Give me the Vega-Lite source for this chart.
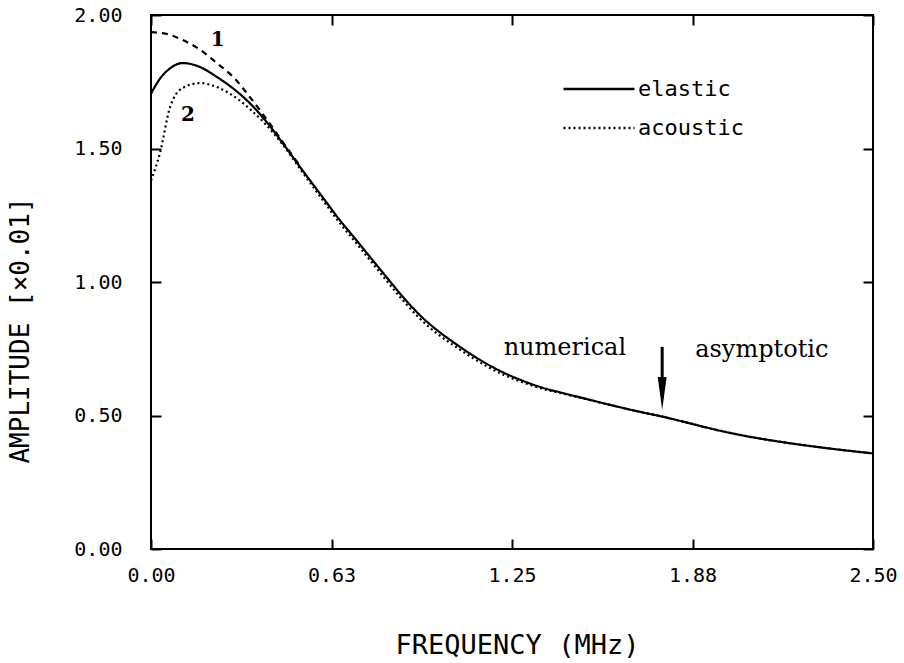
{
  "$schema": "https://vega.github.io/schema/vega-lite/v6.json",
  "width": 722,
  "height": 534,
  "autosize": "none",
  "padding": {"left": 151, "top": 15, "right": 31, "bottom": 114},
  "background": "white",
  "config": {
    "view": {"stroke": "black", "strokeWidth": 2},
    "font": "DejaVu Sans Mono"
  },
  "resolve": {"axis": {"x": "independent", "y": "independent"}},
  "layer": [
    {
      "data": {"values": [
        {"f": 0, "amp": 1.705, "series": "elastic"},
        {"f": 0.03, "amp": 1.76, "series": "elastic"},
        {"f": 0.06, "amp": 1.795, "series": "elastic"},
        {"f": 0.11, "amp": 1.82, "series": "elastic"},
        {"f": 0.17, "amp": 1.805, "series": "elastic"},
        {"f": 0.228, "amp": 1.768, "series": "elastic"},
        {"f": 0.29, "amp": 1.72, "series": "elastic"},
        {"f": 0.342, "amp": 1.67, "series": "elastic"},
        {"f": 0.40, "amp": 1.60, "series": "elastic"},
        {"f": 0.456, "amp": 1.52, "series": "elastic"},
        {"f": 0.52, "amp": 1.425, "series": "elastic"},
        {"f": 0.594, "amp": 1.318, "series": "elastic"},
        {"f": 0.65, "amp": 1.237, "series": "elastic"},
        {"f": 0.711, "amp": 1.157, "series": "elastic"},
        {"f": 0.765, "amp": 1.085, "series": "elastic"},
        {"f": 0.815, "amp": 1.019, "series": "elastic"},
        {"f": 0.87, "amp": 0.947, "series": "elastic"},
        {"f": 0.93, "amp": 0.877, "series": "elastic"},
        {"f": 0.99, "amp": 0.82, "series": "elastic"},
        {"f": 1.045, "amp": 0.776, "series": "elastic"},
        {"f": 1.10, "amp": 0.735, "series": "elastic"},
        {"f": 1.16, "amp": 0.695, "series": "elastic"},
        {"f": 1.22, "amp": 0.661, "series": "elastic"},
        {"f": 1.28, "amp": 0.633, "series": "elastic"},
        {"f": 1.35, "amp": 0.606, "series": "elastic"},
        {"f": 1.43, "amp": 0.583, "series": "elastic"},
        {"f": 1.50, "amp": 0.564, "series": "elastic"},
        {"f": 1.60, "amp": 0.537, "series": "elastic"},
        {"f": 1.70, "amp": 0.512, "series": "elastic"},
        {"f": 1.77, "amp": 0.496, "series": "elastic"},
        {"f": 1.85, "amp": 0.475, "series": "elastic"},
        {"f": 1.954, "amp": 0.447, "series": "elastic"},
        {"f": 2.06, "amp": 0.423, "series": "elastic"},
        {"f": 2.182, "amp": 0.401, "series": "elastic"},
        {"f": 2.33, "amp": 0.379, "series": "elastic"},
        {"f": 2.5, "amp": 0.358, "series": "elastic"},
        {"f": 0, "amp": 1.38, "series": "acoustic"},
        {"f": 0.031, "amp": 1.483, "series": "acoustic"},
        {"f": 0.066, "amp": 1.655, "series": "acoustic"},
        {"f": 0.11, "amp": 1.727, "series": "acoustic"},
        {"f": 0.17, "amp": 1.745, "series": "acoustic"},
        {"f": 0.228, "amp": 1.73, "series": "acoustic"},
        {"f": 0.307, "amp": 1.68, "series": "acoustic"},
        {"f": 0.342, "amp": 1.648, "series": "acoustic"},
        {"f": 0.387, "amp": 1.602, "series": "acoustic"},
        {"f": 0.456, "amp": 1.515, "series": "acoustic"},
        {"f": 0.52, "amp": 1.418, "series": "acoustic"},
        {"f": 0.594, "amp": 1.308, "series": "acoustic"},
        {"f": 0.65, "amp": 1.226, "series": "acoustic"},
        {"f": 0.711, "amp": 1.145, "series": "acoustic"},
        {"f": 0.765, "amp": 1.073, "series": "acoustic"},
        {"f": 0.815, "amp": 1.006, "series": "acoustic"},
        {"f": 0.87, "amp": 0.934, "series": "acoustic"},
        {"f": 0.93, "amp": 0.864, "series": "acoustic"},
        {"f": 0.99, "amp": 0.807, "series": "acoustic"},
        {"f": 1.045, "amp": 0.765, "series": "acoustic"},
        {"f": 1.10, "amp": 0.725, "series": "acoustic"},
        {"f": 1.16, "amp": 0.686, "series": "acoustic"},
        {"f": 1.22, "amp": 0.653, "series": "acoustic"},
        {"f": 1.28, "amp": 0.627, "series": "acoustic"},
        {"f": 1.35, "amp": 0.602, "series": "acoustic"},
        {"f": 1.43, "amp": 0.581, "series": "acoustic"},
        {"f": 1.50, "amp": 0.563, "series": "acoustic"},
        {"f": 1.60, "amp": 0.537, "series": "acoustic"},
        {"f": 1.70, "amp": 0.512, "series": "acoustic"},
        {"f": 1.77, "amp": 0.496, "series": "acoustic"},
        {"f": 1.85, "amp": 0.475, "series": "acoustic"},
        {"f": 1.954, "amp": 0.447, "series": "acoustic"},
        {"f": 2.06, "amp": 0.423, "series": "acoustic"},
        {"f": 2.182, "amp": 0.401, "series": "acoustic"},
        {"f": 2.33, "amp": 0.379, "series": "acoustic"},
        {"f": 2.5, "amp": 0.358, "series": "acoustic"},
        {"f": 0, "amp": 1.936, "series": "1"},
        {"f": 0.05, "amp": 1.93, "series": "1"},
        {"f": 0.11, "amp": 1.906, "series": "1"},
        {"f": 0.17, "amp": 1.87, "series": "1"},
        {"f": 0.228, "amp": 1.82, "series": "1"},
        {"f": 0.29, "amp": 1.762, "series": "1"},
        {"f": 0.342, "amp": 1.693, "series": "1"},
        {"f": 0.40, "amp": 1.61, "series": "1"},
        {"f": 0.456, "amp": 1.525, "series": "1"},
        {"f": 0.52, "amp": 1.428, "series": "1"}
      ]},
      "mark": {"type": "line", "interpolate": "monotone", "color": "black", "strokeWidth": 2.2},
      "encoding": {
        "x": {
          "field": "f", "type": "quantitative",
          "scale": {"domain": [0, 2.5], "nice": false, "zero": false},
          "axis": {
            "orient": "bottom",
            "values": [0, 0.625, 1.25, 1.875, 2.5],
            "format": ".2f",
            "grid": false, "domain": false, "labelFlush": false,
            "tickSize": -10, "tickWidth": 2, "tickColor": "black",
            "labelPadding": 26, "labelFontSize": 20, "labelColor": "black",
            "labelFont": "DejaVu Sans Mono",
            "title": "FREQUENCY (MHz)",
            "titleFont": "DejaVu Sans Mono", "titleFontSize": 27, "titleFontWeight": "normal",
            "titleColor": "black", "titleX": 366, "titleY": 96, "titleBaseline": "middle", "titleAlign": "center"
          }
        },
        "y": {
          "field": "amp", "type": "quantitative",
          "scale": {"domain": [0, 2], "nice": false, "zero": false},
          "axis": {
            "orient": "left",
            "values": [0, 0.5, 1, 1.5, 2],
            "format": ".2f",
            "grid": false, "domain": false, "labelFlush": false,
            "tickSize": -10, "tickWidth": 2, "tickColor": "black",
            "labelPadding": 39, "labelFontSize": 20, "labelColor": "black",
            "labelFont": "DejaVu Sans Mono",
            "title": "AMPLITUDE [×0.01]",
            "titleFont": "DejaVu Sans Mono", "titleFontSize": 26, "titleFontWeight": "normal",
            "titleColor": "black", "titleX": -131, "titleY": 315, "titleBaseline": "middle", "titleAlign": "center", "titleAngle": -90
          }
        },
        "strokeDash": {
          "field": "series", "type": "nominal",
          "scale": {"domain": ["elastic", "acoustic", "1"], "range": [[1, 0], [2, 3], [6, 5]]},
          "legend": {
            "values": ["elastic", "acoustic"],
            "orient": "none", "legendX": 411, "legendY": 64,
            "title": null,
            "symbolType": "stroke", "symbolSize": 5041, "symbolStrokeWidth": 2.5,
            "symbolStrokeColor": "black",
            "labelFont": "DejaVu Sans Mono", "labelFontSize": 22, "labelColor": "black",
            "labelOffset": 2, "clipHeight": 20, "rowPadding": 17
          }
        }
      }
    },
    {
      "data": {"values": [{"f": 1.77, "amp": 0.757, "amp2": 0.62}]},
      "mark": {"type": "rule", "color": "black", "strokeWidth": 3},
      "encoding": {
        "x": {
          "field": "f", "type": "quantitative",
          "scale": {"domain": [0, 2.5], "nice": false, "zero": false},
          "axis": {
            "orient": "top", "values": [0, 0.625, 1.25, 1.875, 2.5],
            "labels": false, "grid": false, "domain": false, "title": null,
            "tickSize": -10, "tickWidth": 2, "tickColor": "black"
          }
        },
        "y": {
          "field": "amp", "type": "quantitative",
          "scale": {"domain": [0, 2], "nice": false, "zero": false},
          "axis": {
            "orient": "right", "values": [0, 0.5, 1, 1.5, 2],
            "labels": false, "grid": false, "domain": false, "title": null,
            "tickSize": -10, "tickWidth": 2, "tickColor": "black"
          }
        },
        "y2": {"field": "amp2"}
      }
    },
    {
      "data": {"values": [{"f": 1.77, "amp": 0.582}]},
      "mark": {"type": "point", "shape": "M-0.27,-1L0.27,-1L0,1Z", "filled": true, "color": "black", "size": 1089, "opacity": 1},
      "encoding": {
        "x": {"field": "f", "type": "quantitative", "axis": null},
        "y": {"field": "amp", "type": "quantitative", "axis": null}
      }
    },
    {
      "data": {"values": [
        {"f": 1.433, "amp": 0.7266, "label": "numerical"},
        {"f": 2.115, "amp": 0.719, "label": "asymptotic"}
      ]},
      "mark": {"type": "text", "font": "DejaVu Serif", "fontSize": 24, "color": "black", "align": "center", "baseline": "alphabetic"},
      "encoding": {
        "x": {"field": "f", "type": "quantitative", "axis": null},
        "y": {"field": "amp", "type": "quantitative", "axis": null},
        "text": {"field": "label"}
      }
    },
    {
      "data": {"values": [
        {"f": 0.231, "amp": 1.906, "label": "1"},
        {"f": 0.128, "amp": 1.625, "label": "2"}
      ]},
      "mark": {"type": "text", "font": "DejaVu Serif", "fontSize": 20, "fontWeight": "bold", "color": "black", "align": "center", "baseline": "middle"},
      "encoding": {
        "x": {"field": "f", "type": "quantitative", "axis": null},
        "y": {"field": "amp", "type": "quantitative", "axis": null},
        "text": {"field": "label"}
      }
    }
  ]
}
